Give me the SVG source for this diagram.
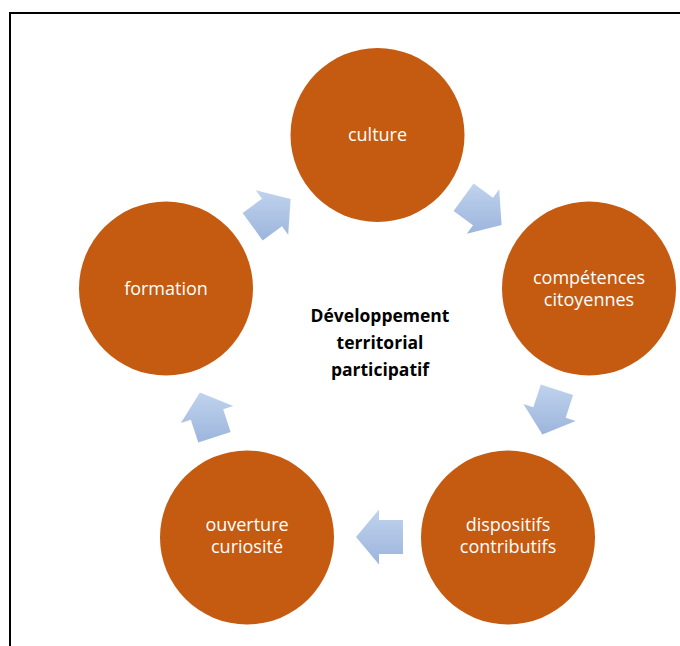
<svg xmlns="http://www.w3.org/2000/svg" width="680" height="646" viewBox="0 0 680 646">
  <style>
    .node circle { fill: #C55A11; }
    .lbl { font-family: "Open Sans", "Noto Sans", "Liberation Sans", sans-serif; font-size: 18px; fill: #FFFFFF; text-anchor: middle; }
    .center { font-family: "Open Sans", "Noto Sans", "Liberation Sans", sans-serif; font-size: 17.5px; font-weight: bold; fill: #000000; text-anchor: middle; }
    .arrow { fill: url(#arrowGrad); stroke: none; }
  </style>
  <defs>
    <linearGradient id="arrowGrad" x1="0" y1="0" x2="0" y2="1">
      <stop offset="0" stop-color="#C0D3EE"/>
      <stop offset="1" stop-color="#9CB5DC"/>
    </linearGradient>
  </defs>
  <rect x="0" y="0" width="680" height="646" fill="#FFFFFF"/>
  <rect x="10" y="13" width="700" height="700" fill="none" stroke="#000000" stroke-width="2"/>

  <g id="connectors">
    <polygon class="arrow" points="290.6,199.0 255.8,190.3 262.0,198.8 242.6,212.9 262.6,240.4 282.0,226.3 288.2,234.8"/>
    <polygon class="arrow" points="501.6,225.0 499.2,189.3 493.0,197.8 473.6,183.6 453.6,211.1 473.0,225.3 466.8,233.8"/>
    <polygon class="arrow" points="542.4,434.4 575.7,421.0 565.7,417.8 573.1,394.9 540.8,384.4 533.3,407.3 523.4,404.0"/>
    <polygon class="arrow" points="356,537 379,564.5 379,554 403,554 403,520 379,520 379,509.5"/>
    <polygon class="arrow" points="199.9,392.6 180.9,423.0 190.8,419.8 198.3,442.6 230.6,432.1 223.2,409.3 233.2,406.0"/>
  </g>

  <g id="node-culture" class="node">
    <circle cx="377.5" cy="135" r="87"/>
    <text class="lbl" x="377.5" y="141">culture</text>
  </g>
  <g id="node-competences" class="node">
    <circle cx="589" cy="288.5" r="87"/>
    <text class="lbl" x="589" y="284">compétences</text>
    <text class="lbl" x="589" y="306">citoyennes</text>
  </g>
  <g id="node-dispositifs" class="node">
    <circle cx="508" cy="537.5" r="87"/>
    <text class="lbl" x="508" y="531">dispositifs</text>
    <text class="lbl" x="508" y="553">contributifs</text>
  </g>
  <g id="node-ouverture" class="node">
    <circle cx="247" cy="537.5" r="87"/>
    <text class="lbl" x="247" y="531">ouverture</text>
    <text class="lbl" x="247" y="553">curiosité</text>
  </g>
  <g id="node-formation" class="node">
    <circle cx="166" cy="288.5" r="87"/>
    <text class="lbl" x="166" y="295">formation</text>
  </g>

  <g id="center-label">
    <text class="center" x="380" y="322">Développement</text>
    <text class="center" x="380" y="349">territorial</text>
    <text class="center" x="380" y="376">participatif</text>
  </g>
</svg>
